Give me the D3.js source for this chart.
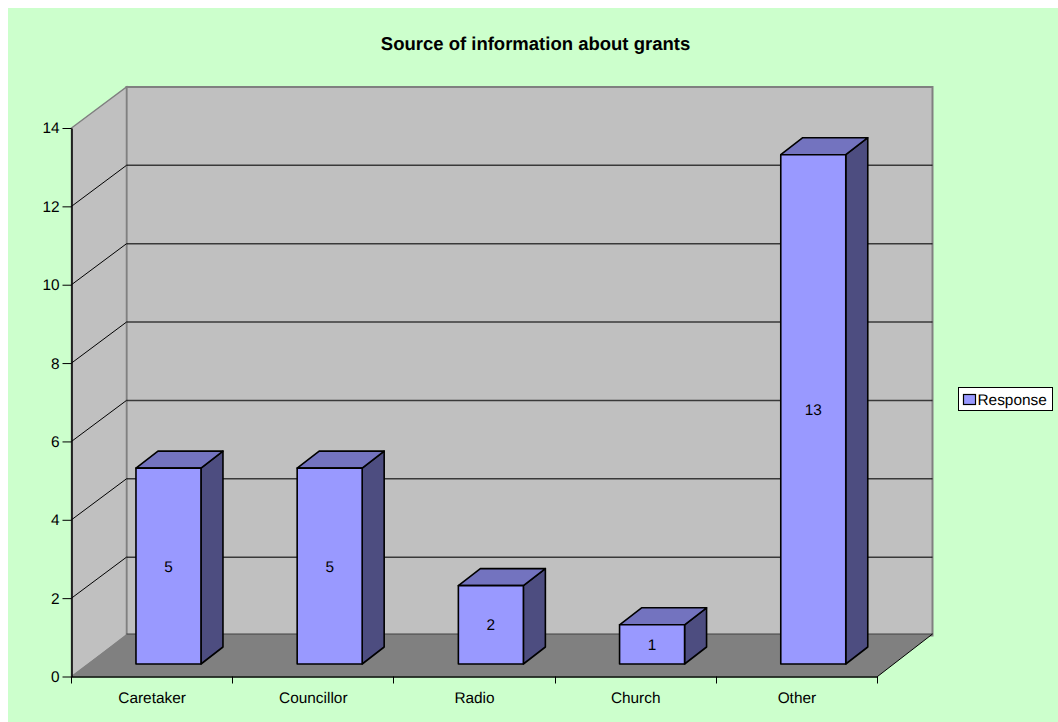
<!DOCTYPE html>
<html><head><meta charset="utf-8">
<script src="https://cdn.jsdelivr.net/npm/d3@7"></script>
<style>html,body{margin:0;padding:0;background:#fff;overflow:hidden}svg{display:block}text{font-family:"Liberation Sans",Arial,sans-serif;fill:#000;text-rendering:geometricPrecision}</style>
</head><body><svg id="c" width="1058" height="722"></svg>
<script>
const categories = ["Caretaker","Councillor","Radio","Church","Other"];
const values = [5,5,2,1,13];
const yTicks = [0,2,4,6,8,10,12,14];
const seriesName = "Response";
const titleText = "Source of information about grants";

const svg = d3.select("#c");
const L=71.5,R=877.5,B=676.5,T=128;
const DX=55,DY=-41,FS=15.4;
const x=d3.scaleBand().domain(categories).range([L,R]);
const y=d3.scaleLinear().domain([0,14]).range([B,T]);
const pts=a=>a.map(p=>p.join(",")).join(" ");
svg.append("rect").attr("x",8).attr("y",8).attr("width",1050).attr("height",714).attr("fill","#CCFFCC");

// walls
const wall="#C0C0C0",edge="#808080";
svg.append("polygon").attr("points",pts([[L+DX,y(14)+DY],[R+DX,y(14)+DY],[R+DX,B+DY],[L+DX,B+DY]])).attr("fill",wall).attr("stroke",edge).attr("stroke-width",2);
svg.append("polygon").attr("points",pts([[L,T],[L+DX,T+DY],[L+DX,B+DY],[L,B]])).attr("fill",wall).attr("stroke",edge).attr("stroke-width",1.5);
// floor
const floorTop=B+DY-1.5;
svg.append("polygon").attr("points",pts([[L,B],[L+DX,floorTop],[R+DX,floorTop],[R,B]])).attr("fill","#808080");
svg.append("line").attr("x1",L+DX).attr("x2",R+DX).attr("y1",floorTop).attr("y2",floorTop).attr("stroke","#404040").attr("stroke-width",1);
svg.append("line").attr("x1",R).attr("y1",B).attr("x2",R+DX).attr("y2",floorTop).attr("stroke","#000").attr("stroke-width",1);
// gridlines
yTicks.filter(v=>v>0&&v<14).forEach(v=>{
  svg.append("line").attr("x1",L).attr("y1",y(v)).attr("x2",L+DX).attr("y2",y(v)+DY).attr("stroke","#000");
  svg.append("line").attr("x1",L+DX).attr("y1",y(v)+DY).attr("x2",R+DX).attr("y2",y(v)+DY).attr("stroke","#000").attr("stroke-opacity",.7).attr("stroke-width",1.5);
});
// axes
const gy=svg.append("g").attr("transform",`translate(${L},0)`).call(d3.axisLeft(y).tickValues(yTicks).tickSize(9).tickPadding(3).tickSizeOuter(0));
gy.selectAll("text").attr("font-size",FS).attr("font-family","Liberation Sans");
const gx=svg.append("g").attr("transform",`translate(0,${B})`).call(d3.axisBottom(x).tickSize(0).tickPadding(15.5));
gx.selectAll("text").attr("font-size",FS).attr("font-family","Liberation Sans");
gx.selectAll("line").remove();
d3.range(categories.length+1).forEach(i=>{
  const tx=Math.round(L+i*x.bandwidth()-.5)+.5;
  gx.append("line").attr("x1",tx).attr("x2",tx).attr("y1",0).attr("y2",7).attr("stroke","#000");
});
svg.selectAll(".domain").attr("stroke","#000").attr("stroke-width",1.5);

// bars
const barW=65, f=12.5/41;          // width, depth position of bar front
const bx=d=>x(d)+x.bandwidth()/2+DX*f-barW/2-.4;
const byBottom=B+DY*f;
const ddx=22,ddy=-17;
const g=svg.append("g").attr("stroke","#000").attr("stroke-width",1.6).attr("stroke-linejoin","round");
categories.forEach((c,i)=>{
  const x0=bx(c),x1=x0+barW,yb=byBottom,yt=byBottom-(B-y(values[i]));
  g.append("polygon").attr("points",pts([[x1,yb],[x1+ddx,yb+ddy],[x1+ddx,yt+ddy],[x1,yt]])).attr("fill","#4D4D80");
  g.append("polygon").attr("points",pts([[x0,yt],[x0+ddx,yt+ddy],[x1+ddx,yt+ddy],[x1,yt]])).attr("fill","#7373BF");
  g.append("rect").attr("x",x0).attr("y",yt).attr("width",barW).attr("height",yb-yt).attr("fill","#9999FF");
  svg.append("text").attr("x",(x0+x1)/2).attr("y",(yt+yb)/2+5.5).attr("text-anchor","middle").attr("font-size",FS).text(values[i]);
});

// title
svg.append("text").attr("x",535.5).attr("y",50).attr("text-anchor","middle").attr("font-size",18.5).attr("font-weight","bold").text(titleText);
// legend
svg.append("rect").attr("x",958.5).attr("y",387.5).attr("width",94).attr("height",23).attr("fill","#fff").attr("stroke","#000");
svg.append("rect").attr("x",963.5).attr("y",394.5).attr("width",12).attr("height",10).attr("fill","#9999FF").attr("stroke","#000").attr("stroke-width",1.2);
svg.append("text").attr("x",977.5).attr("y",405).attr("font-size",FS).text(seriesName);
</script></body></html>
